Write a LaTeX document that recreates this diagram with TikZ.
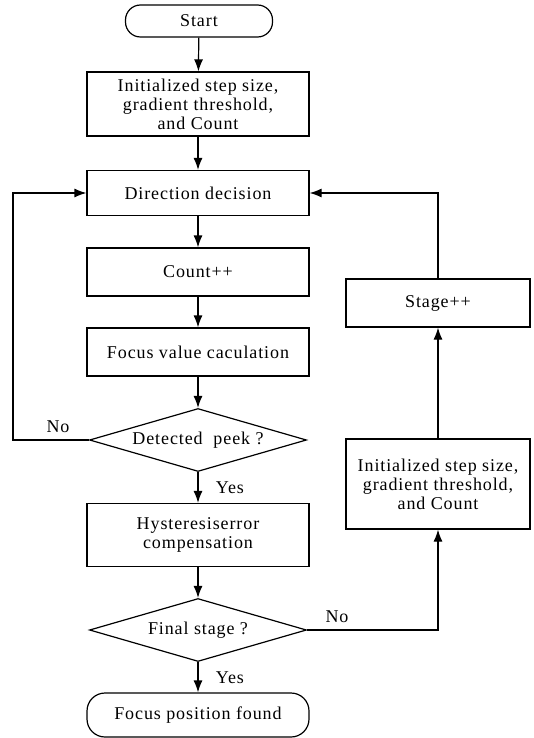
\documentclass[tikz,border=0pt]{standalone}
\usepackage{fontspec}
\setmainfont{Liberation Serif}[LetterSpace=5]
\usetikzlibrary{shapes.geometric,arrows.meta}

\begin{document}
\begin{tikzpicture}[x=1pt, y=-1pt, line width=1.2pt,
  font=\fontsize{18}{19}\selectfont,
  >={Latex[length=12pt,width=9pt]},
  block/.style={draw, rectangle, align=center, inner sep=2pt},
  terminal/.style={draw, rectangle, rounded corners=15pt, align=center},
  decision/.style={draw, diamond, aspect=3.4, inner sep=1pt,
    minimum width=217pt, minimum height=63pt}]

% Page size of the reference (1pt per pixel, y pointing down)
\useasboundingbox (0,0) rectangle (533,738);

% Main column
\node[terminal, minimum width=147pt, minimum height=32pt] (start) at (199,21) {Start};
\node[block, minimum width=222pt, minimum height=64pt] (init) at (198,104)
  {Initialized step size,\\ gradient threshold,\\ and Count};
\node[block, minimum width=222pt, minimum height=45pt] (direction) at (198,193) {Direction decision};
\node[block, minimum width=222pt, minimum height=48pt] (count) at (198,272) {Count++};
\node[block, minimum width=222pt, minimum height=48pt] (focusvalue) at (198,352) {Focus value caculation};
\node[decision] (peek) at (198,440) {Detected \ peek ?};
\node[block, minimum width=222pt, minimum height=63pt] (hysteresis) at (198,535)
  {Hysteresiserror\\ compensation};
\node[decision] (final) at (198,630) {Final stage ?};
\node[terminal, rounded corners=18pt, minimum width=222pt, minimum height=44pt] (found) at (198,715)
  {Focus position found};

% Right column
\node[block, minimum width=184pt, minimum height=48pt] (stage) at (438,303) {Stage++};
\node[block, minimum width=184pt, minimum height=90pt] (reinit) at (438,484)
  {Initialized step size,\\ gradient threshold,\\ and Count};

% Left return line
\coordinate (loop left) at (13,440);

% Straight flow
\draw[->] (start) -- (init);
\draw[->] (init) -- (direction);
\draw[->] (direction) -- (count);
\draw[->] (count) -- (focusvalue);
\draw[->] (focusvalue) -- (peek);
\draw[->] (peek) -- (hysteresis) node[midway, right=14pt] {Yes};
\draw[->] (hysteresis) -- (final);
\draw[->] (final) -- (found) node[midway, right=14pt] {Yes};

% Loops
\draw[->] (peek.west) -- (loop left) |- (direction.west);
\draw[->] (final.east) -| (reinit.south);
\draw[->] (reinit) -- (stage);
\draw[->] (stage.north) |- (direction.east);

% labels
\node (no peek) at (58,427) {No};
\node (no final) at (337,617) {No};

\end{tikzpicture}
\end{document}
